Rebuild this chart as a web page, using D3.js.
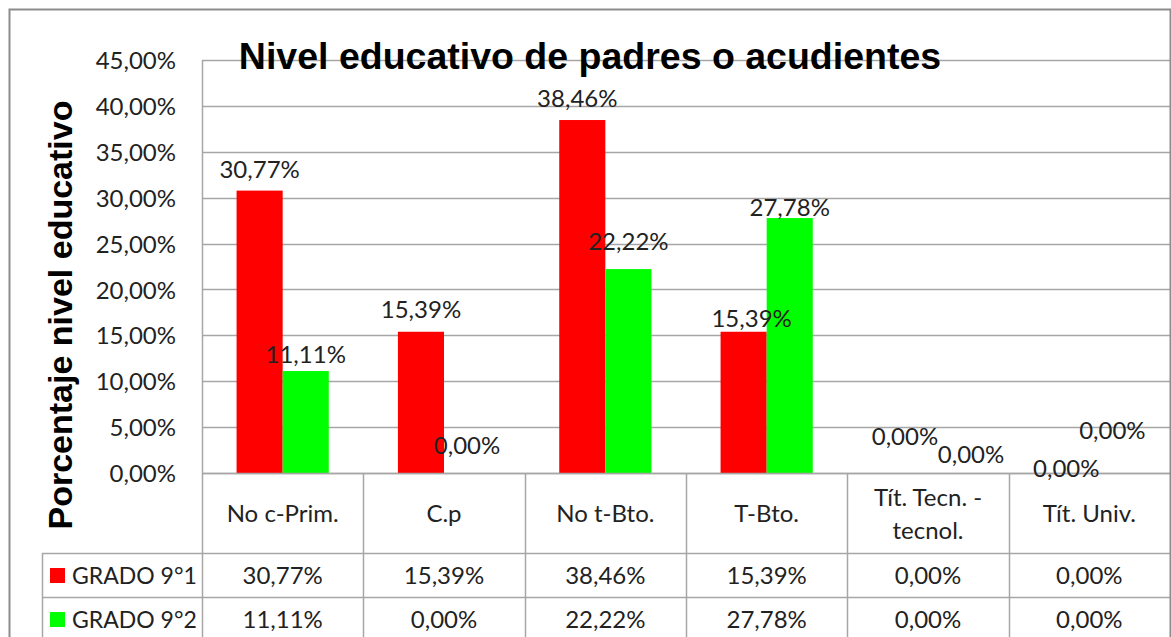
<!DOCTYPE html>
<html>
<head>
<meta charset="utf-8">
<script src="https://cdn.jsdelivr.net/npm/d3@7"></script>
<style>
  body { margin: 0; background: #fff; }
  svg { display: block; }
</style>
</head>
<body>
<div id="chart"></div>
<script>
// data
const categories = ["No c-Prim.", "C.p", "No t-Bto.", "T-Bto.", "Tít. Tecn. - tecnol.", "Tít. Univ."];
const categoryLines = [["No c-Prim."], ["C.p"], ["No t-Bto."], ["T-Bto."], ["Tít. Tecn. -", "tecnol."], ["Tít. Univ."]];
const seriesNames = ["GRADO 9°1", "GRADO 9°2"];
const grado91 = [0.3077, 0.1539, 0.3846, 0.1539, 0, 0];
const grado92 = [0.1111, 0, 0.2222, 0.2778, 0, 0];
const yTicks = [0, 0.05, 0.10, 0.15, 0.20, 0.25, 0.30, 0.35, 0.40, 0.45];

// label nudges (dx, dy from bar top) - labels were moved by hand in the original
const nudge91 = [[0, -13], [0, -14], [-5, -13], [8, -5], [0, -28], [0, 4]];
const nudge92 = [[0, -8], [0, -19], [0, -19], [0, -2], [20, -10], [0, -34]];

const colors = ["#ff0000", "#00ff00"];
const W = 1171, H = 637;
const plot = { left: 202, right: 1170, top: 60, bottom: 473 };
const tableRows = [473, 553, 597, 641];
const legendLeft = 42;
const gridColor = "#a6a6a6";
const textColor = "#222";
const valueFont = "Lato, 'Open Sans', sans-serif";

const loc = d3.formatLocale({ decimal: ",", thousands: ".", grouping: [3], currency: ["", "€"] });
const pct = loc.format(".2%");

const svg = d3.select("#chart").append("svg")
    .attr("width", W)
    .attr("height", H);

svg.append("rect").attr("width", W).attr("height", H).attr("fill", "#fff");

const x0 = d3.scaleBand()
    .domain(d3.range(categories.length))
    .range([plot.left, plot.right]);

const x1 = d3.scaleBand()
    .domain([0, 1])
    .range([0, x0.bandwidth()])
    .paddingOuter(0.75);

const y = d3.scaleLinear()
    .domain([0, 0.45])
    .range([plot.bottom, plot.top]);

// gridlines
svg.append("g")
    .selectAll("line")
    .data(yTicks)
    .join("line")
    .attr("x1", plot.left)
    .attr("x2", plot.right)
    .attr("y1", d => Math.round(y(d)) + 0.5)
    .attr("y2", d => Math.round(y(d)) + 0.5)
    .attr("stroke", gridColor)
    .attr("stroke-width", 1.5);

// y axis labels
const yAxis = svg.append("g")
    .attr("transform", "translate(176,0)")
    .call(d3.axisLeft(y).tickValues(yTicks).tickFormat(pct).tickSize(0).tickPadding(0));
yAxis.select(".domain").remove();
yAxis.selectAll("text")
    .attr("font-family", valueFont)
    .attr("font-size", 24)
    .attr("fill", textColor)
    .attr("dy", "0.36em");

// bars
const seriesData = [grado91, grado92];
const nudges = [nudge91, nudge92];
seriesData.forEach((vals, s) => {
    svg.append("g")
        .selectAll("rect")
        .data(vals)
        .join("rect")
        .attr("x", (d, i) => x0(i) + x1(s))
        .attr("y", d => y(d))
        .attr("width", x1.bandwidth())
        .attr("height", d => plot.bottom - y(d))
        .attr("fill", colors[s]);
});

// table lines
const table = svg.append("g").attr("stroke", gridColor).attr("stroke-width", 1.5);
// plot left edge continuing down through table
table.append("line")
    .attr("x1", plot.left + 0.5).attr("x2", plot.left + 0.5)
    .attr("y1", plot.top).attr("y2", H);
table.selectAll(".vline")
    .data(d3.range(1, categories.length))
    .join("line")
    .attr("x1", i => Math.round(x0(i)) + 0.5)
    .attr("x2", i => Math.round(x0(i)) + 0.5)
    .attr("y1", plot.bottom)
    .attr("y2", H);
table.append("line")
    .attr("x1", plot.left).attr("x2", plot.right)
    .attr("y1", plot.bottom + 0.5).attr("y2", plot.bottom + 0.5);
table.selectAll(".hline")
    .data(tableRows.slice(1, 3))
    .join("line")
    .attr("x1", legendLeft).attr("x2", plot.right)
    .attr("y1", d => d + 0.5).attr("y2", d => d + 0.5);
table.append("line")
    .attr("x1", legendLeft + 0.5).attr("x2", legendLeft + 0.5)
    .attr("y1", tableRows[1]).attr("y2", H);

// data labels
seriesData.forEach((vals, s) => {
    svg.append("g")
        .selectAll("text")
        .data(vals)
        .join("text")
        .attr("x", (d, i) => x0(i) + x1(s) + x1.bandwidth() / 2 + nudges[s][i][0])
        .attr("y", (d, i) => y(d) + nudges[s][i][1])
        .attr("text-anchor", "middle")
        .attr("font-family", valueFont)
        .attr("font-size", 24)
        .attr("fill", textColor)
        .text(d => pct(d));
});

// category labels in table
const catRowMid = (tableRows[0] + tableRows[1]) / 2;
svg.append("g")
    .selectAll("text")
    .data(categoryLines)
    .join("text")
    .attr("x", (d, i) => x0(i) + x0.bandwidth() / 2)
    .attr("y", d => catRowMid + 9 - (d.length - 1) * 16.5)
    .attr("text-anchor", "middle")
    .attr("font-family", valueFont)
    .attr("font-size", 24)
    .attr("fill", textColor)
    .each(function(lines) {
        const t = d3.select(this);
        lines.forEach((ln, k) => {
            t.append("tspan")
                .attr("x", t.attr("x"))
                .attr("dy", k === 0 ? 0 : 33)
                .text(ln);
        });
    });

// table values + legend keys
seriesData.forEach((vals, s) => {
    const mid = (tableRows[s + 1] + tableRows[s + 2]) / 2;
    svg.append("g")
        .selectAll("text")
        .data(vals)
        .join("text")
        .attr("x", (d, i) => x0(i) + x0.bandwidth() / 2)
        .attr("y", mid + 9)
        .attr("text-anchor", "middle")
        .attr("font-family", valueFont)
        .attr("font-size", 24)
        .attr("fill", textColor)
        .text(d => pct(d));
    svg.append("rect")
        .attr("x", 50)
        .attr("y", mid - 7)
        .attr("width", 15)
        .attr("height", 15)
        .attr("fill", colors[s]);
    svg.append("text")
        .attr("x", 72)
        .attr("y", mid + 9)
        .attr("font-family", valueFont)
        .attr("font-size", 23)
        .attr("fill", textColor)
        .text(seriesNames[s]);
});

// title
svg.append("text")
    .attr("x", 590)
    .attr("y", 69)
    .attr("text-anchor", "middle")
    .attr("font-family", "'Liberation Sans', Arial, sans-serif")
    .attr("font-weight", "bold")
    .attr("font-size", 37.5)
    .attr("fill", "#000")
    .text("Nivel educativo de padres o acudientes");

// y axis title
svg.append("text")
    .attr("transform", "translate(72,315) rotate(-90)")
    .attr("text-anchor", "middle")
    .attr("font-family", "'Liberation Sans', Arial, sans-serif")
    .attr("font-weight", "bold")
    .attr("font-size", 34)
    .attr("fill", "#000")
    .text("Porcentaje nivel educativo");

// outer chart border
svg.append("path")
    .attr("d", `M9.5,${H + 5} V9.5 H1170.5 V${H + 5}`)
    .attr("fill", "none")
    .attr("stroke", "#8c8c8c")
    .attr("stroke-width", 2);
</script>
</body>
</html>
